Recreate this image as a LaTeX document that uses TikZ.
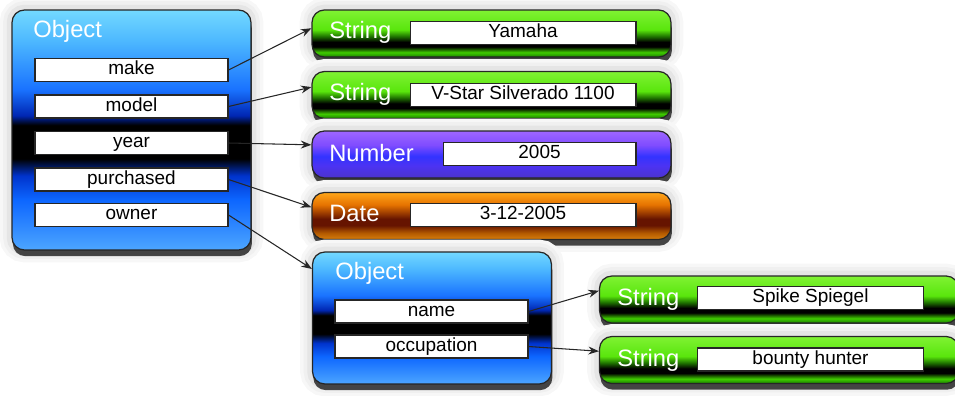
\documentclass[tikz,border=0pt]{standalone}
\usepackage{fontspec}
\setmainfont{Liberation Sans}
\usetikzlibrary{positioning,arrows.meta,shadows}

\definecolor{objtop}{rgb}{0.45,0.85,1}
\definecolor{objlite}{rgb}{0.3,0.72,1}
\definecolor{objblue}{rgb}{0.1,0.45,1}
\definecolor{objdeep}{rgb}{0,0.15,0.7}
\definecolor{objlow}{rgb}{0,0.2,0.8}
\definecolor{objmid}{rgb}{0.05,0.4,1}
\definecolor{objbot}{rgb}{0.3,0.65,1}
\pgfdeclareverticalshading{objshade}{100bp}{color(0bp)=(objbot); color(25bp)=(objbot); color(35.5bp)=(objmid); color(40.5bp)=(objlow); color(44bp)=(black); color(51bp)=(black); color(53bp)=(objdeep); color(58.5bp)=(objblue); color(68.5bp)=(objlite); color(75bp)=(objtop); color(100bp)=(objtop)}

\definecolor{strtop}{rgb}{0.5,0.95,0.2}
\definecolor{strlite}{rgb}{0.35,0.9,0.05}
\definecolor{strdark}{rgb}{0.12,0.45,0}
\definecolor{strlow}{rgb}{0.25,0.8,0}
\definecolor{strbot}{rgb}{0.1,0.5,0}
\pgfdeclareverticalshading{strshade}{100bp}{color(0bp)=(strbot); color(25bp)=(strbot); color(30bp)=(strlow); color(36bp)=(black); color(41bp)=(black); color(47bp)=(strdark); color(54bp)=(strlite); color(75bp)=(strtop); color(100bp)=(strtop)}

\definecolor{numtop}{rgb}{0.62,0.4,1}
\definecolor{numup}{rgb}{0.5,0.3,1}
\definecolor{nummid}{rgb}{0.2,0.2,1}
\definecolor{numlow}{rgb}{0.3,0.2,0.95}
\definecolor{numbot}{rgb}{0.3,0.2,0.8}
\pgfdeclareverticalshading{numshade}{100bp}{color(0bp)=(numbot); color(25bp)=(numbot); color(38bp)=(numlow); color(48bp)=(nummid); color(60bp)=(numup); color(75bp)=(numtop); color(100bp)=(numtop)}

\definecolor{datetop}{rgb}{1,0.65,0.1}
\definecolor{dateup}{rgb}{0.9,0.45,0}
\definecolor{datedark}{rgb}{0.4,0.08,0}
\definecolor{datelow}{rgb}{0.7,0.35,0}
\definecolor{datebot}{rgb}{0.85,0.5,0.05}
\pgfdeclareverticalshading{dateshade}{100bp}{color(0bp)=(datebot); color(25bp)=(datebot); color(32bp)=(datelow); color(40bp)=(datedark); color(47bp)=(datedark); color(62bp)=(dateup); color(75bp)=(datetop); color(100bp)=(datetop)}

\begin{document}
\begin{tikzpicture}[
  x=0.02cm, y=-0.02cm,
  box/.style={draw=black!85, line width=0.7pt, rounded corners=7pt,
    preaction={draw=black!3, line width=14pt},
    preaction={draw=black!6, line width=10pt},
    preaction={draw=black!10, line width=6pt},
    drop shadow={shadow xshift=0.5pt, shadow yshift=-3.5pt, opacity=.7, fill=black}},
  objbox/.style={box, shading=objshade, minimum width=4.78cm},
  pill/.style={box, minimum width=7.18cm, minimum height=0.94cm},
  field/.style={draw=black!85, line width=0.6pt, fill=white, inner sep=0pt,
    minimum width=3.86cm, minimum height=0.46cm, text height=7.6pt, text depth=2.2pt,
    font=\fontsize{10.8}{12}\selectfont},
  valbox/.style={field, minimum width=4.52cm},
  tylbl/.style={anchor=base west, inner sep=0pt, text=white, font=\fontsize{13.5}{15}\selectfont},
  link/.style={-{Stealth[length=6pt,width=4.5pt]}, line width=0.6pt, black!85}
]
\useasboundingbox (0,0) rectangle (955,395);

% the motorcycle object
\node[objbox, minimum height=4.8cm] (obja) at (131.5,130) {};
\node[tylbl] (objahd) at (33,38) {Object};
\node[field] (make) at (131.5,70) {make};
\node[field] (model) at (131.5,106.5) {model};
\node[field] (year) at (131.5,143) {year};
\node[field] (purchased) at (131.5,179.5) {purchased};
\node[field] (owner) at (131.5,215) {owner};

% its values
\node[pill, shading=strshade] (sone) at (491.5,33.5) {};
\node[tylbl] (sonehd) at (329,39) {String};
\node[valbox] (soneval) at (523,33) {Yamaha};

\node[pill, shading=strshade] (stwo) at (491.5,95) {};
\node[tylbl] (stwohd) at (329,100) {String};
\node[valbox] (stwoval) at (523,95) {V-Star Silverado 1100};

\node[pill, shading=numshade] (num) at (491.5,154.5) {};
\node[tylbl] (numhd) at (329,161) {Number};
\node[field] (numval) at (539.5,154) {2005};

\node[pill, shading=dateshade] (date) at (491.5,216) {};
\node[tylbl] (datehd) at (329,221) {Date};
\node[valbox] (dateval) at (523,215) {3-12-2005};

% the owner object
\node[objbox, minimum height=2.64cm] (objb) at (432,318) {};
\node[tylbl] (objbhd) at (335,279) {Object};
\node[field] (name) at (431.5,311.5) {name};
\node[field] (occupation) at (431.5,346.5) {occupation};

\node[pill, shading=strshade] (sthree) at (779,299.5) {};
\node[tylbl] (sthreehd) at (617,305) {String};
\node[valbox] (sthreeval) at (810.5,298) {Spike Spiegel};

\node[pill, shading=strshade] (sfour) at (779,360) {};
\node[tylbl] (sfourhd) at (617,366) {String};
\node[valbox] (sfourval) at (810.5,359.5) {bounty hunter};

% references
\draw[link] (make.east) -- ([yshift=3pt]sone.west);
\draw[link] (model.east) -- ([yshift=4.5pt]stwo.west);
\draw[link] (year.east) -- ([yshift=5.5pt]num.west);
\draw[link] (purchased.east) -- ([yshift=5pt]date.west);
\draw[link] (owner.east) -- ([yshift=-10pt]objb.north west);
\draw[link] (name.east) -- ([yshift=5pt]sthree.west);
\draw[link] (occupation.east) -- ([yshift=5pt]sfour.west);
\end{tikzpicture}
\end{document}
